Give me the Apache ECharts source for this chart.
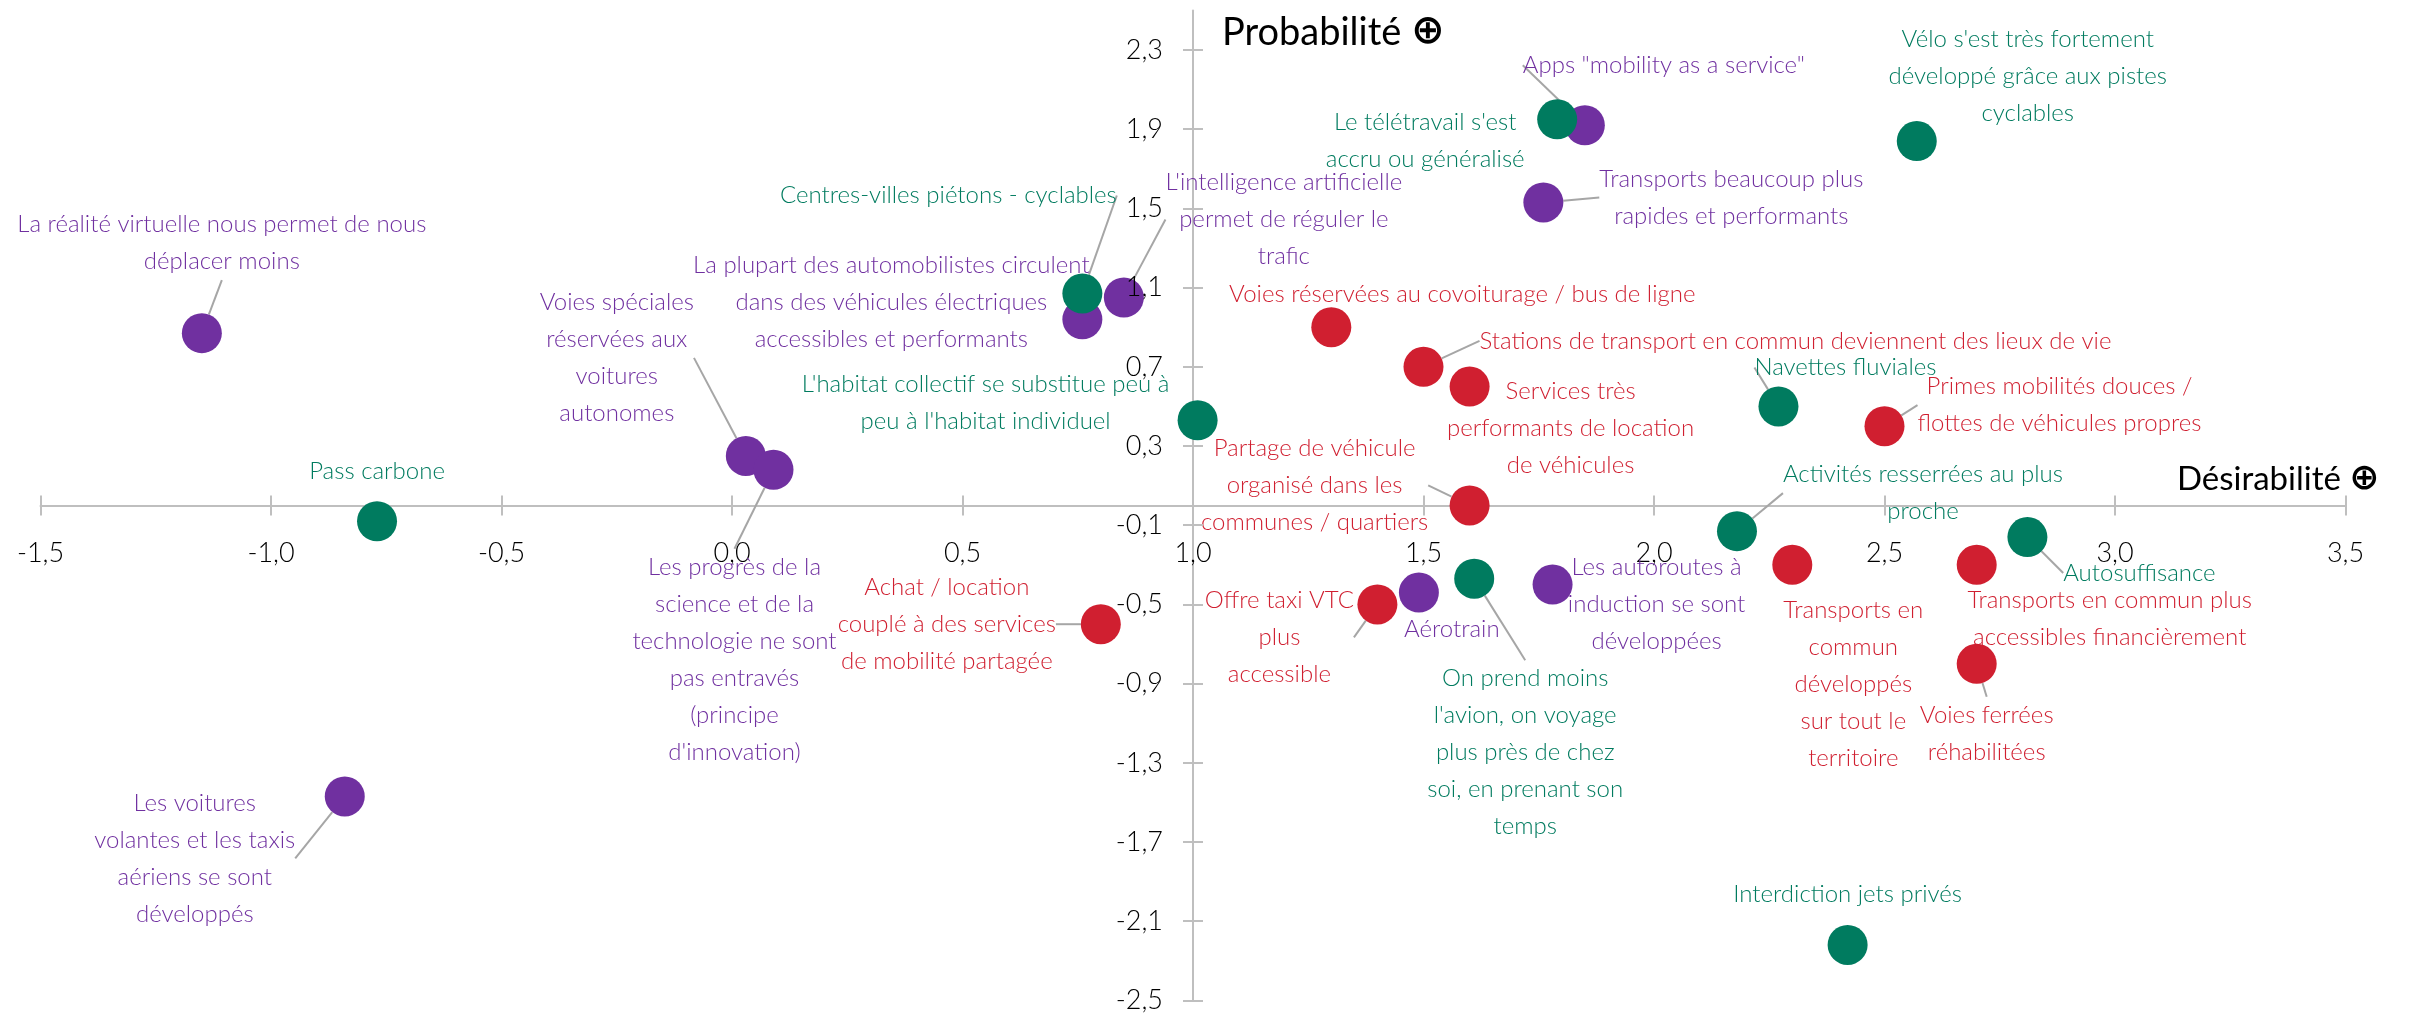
<!DOCTYPE html>
<html>
<head>
<meta charset="utf-8">
<script src="https://cdn.jsdelivr.net/npm/echarts@6.0.0/dist/echarts.min.js"></script>
<style>
    html, body {margin: 0; padding: 0; background: #fff;}
    #chart {width: 2430px; height: 1014px;}
</style>
</head>
<body>
<div id="chart"></div>
<script>
// scénarios : libellé, désirabilité (x), probabilité (y), groupe de couleur
const names = [
    'La réalité virtuelle nous permet de nous\ndéplacer moins',
    'Centres-villes piétons - cyclables',
    'La plupart des automobilistes circulent\ndans des véhicules électriques\naccessibles et performants',
    "L'intelligence artificielle\npermet de réguler le\ntrafic",
    "L'habitat collectif se substitue peu à\npeu à l'habitat individuel",
    'Voies spéciales\nréservées aux\nvoitures\nautonomes',
    "Les progrès de la\nscience et de la\ntechnologie ne sont\npas entravés\n(principe\nd'innovation)",
    'Pass carbone',
    "Le télétravail s'est\naccru ou généralisé",
    'Apps "mobility as a service"',
    "Vélo s'est très fortement\ndéveloppé grâce aux pistes\ncyclables",
    'Transports beaucoup plus\nrapides et performants',
    'Voies réservées au covoiturage / bus de ligne',
    'Stations de transport en commun deviennent des lieux de vie',
    'Services très\nperformants de location\nde véhicules',
    'Navettes fluviales',
    'Primes mobilités douces /\nflottes de véhicules propres',
    'Partage de véhicule\norganisé dans les\ncommunes / quartiers',
    'Activités resserrées au plus\nproche',
    'Autosuffisance',
    'Transports en\ncommun\ndéveloppés\nsur tout le\nterritoire',
    'Transports en commun plus\naccessibles financièrement',
    'Voies ferrées\nréhabilitées',
    'Interdiction jets privés',
    'Aérotrain',
    "On prend moins\nl'avion, on voyage\nplus près de chez\nsoi, en prenant son\ntemps",
    'Offre taxi VTC\nplus\naccessible',
    'Les autoroutes à\ninduction se sont\ndéveloppées',
    'Achat / location\ncouplé à des services\nde mobilité partagée',
    'Les voitures\nvolantes et les taxis\naériens se sont\ndéveloppés'
];
const desirabilite = [
    -1.15, 0.76, 0.76, 0.85, 1.01, 0.03, 0.09, -0.77, 1.79, 1.85,
    2.57, 1.76, 1.30, 1.50, 1.60, 2.27, 2.50, 1.60, 2.18, 2.81,
    2.30, 2.70, 2.70, 2.42, 1.49, 1.61, 1.40, 1.78, 0.80, -0.84
];
const probabilite = [
    0.87, 1.07, 0.94, 1.05, 0.43, 0.25, 0.18, -0.08, 1.95, 1.92,
    1.84, 1.53, 0.90, 0.70, 0.60, 0.50, 0.40, 0.00, -0.13, -0.16,
    -0.30, -0.30, -0.80, -2.22, -0.44, -0.37, -0.50, -0.40, -0.60, -1.47
];
const groupe = [
    'violet', 'vert', 'violet', 'violet', 'vert', 'violet', 'violet', 'vert', 'vert', 'violet',
    'vert', 'violet', 'rouge', 'rouge', 'rouge', 'vert', 'rouge', 'rouge', 'vert', 'vert',
    'rouge', 'rouge', 'rouge', 'vert', 'violet', 'vert', 'rouge', 'violet', 'rouge', 'violet'
];

const xTicks = [-1.5, -1.0, -0.5, 0.0, 0.5, 1.0, 1.5, 2.0, 2.5, 3.0, 3.5];
const xTickLabels = ['-1,5', '-1,0', '-0,5', '0,0', '0,5', '1,0', '1,5', '2,0', '2,5', '3,0', '3,5'];
const yTicks = [-2.5, -2.1, -1.7, -1.3, -0.9, -0.5, -0.1, 0.3, 0.7, 1.1, 1.5, 1.9, 2.3];
const yTickLabels = ['-2,5', '-2,1', '-1,7', '-1,3', '-0,9', '-0,5', '-0,1', '0,3', '0,7', '1,1', '1,5', '1,9', '2,3'];

// placement des étiquettes (px depuis le centre du point) et lignes de rappel
const labelDx = [20, -134, -191, 160, -212, -129, -39, 0, -132, 79, 111, 188, 131, 372, 101, 67, 175, -155, 186, 112, 61, 133, 10, 0, 33, 51, -98, 104, -154, -150];
const labelDy = [-90, -98, -17, -78, -17, -98, 190, -50, 21, -60, -65, -5, -33, -26, 42, -39, -21, -20, -38, 36, 119, 54, 70, -51, 37, 174, 33, 20, 0, 62];
const leader = [true, true, false, true, false, true, true, false, false, true, false, true, false, true, false, true, true, true, true, true, false, false, true, false, false, true, true, false, true, true];

const colours = {violet: '#7030A0', rouge: '#D01F30', vert: '#007B5F'};
const order = ['violet', 'rouge', 'vert'];
const font = 'Lato';
const xMin = -1.5, xMax = 3.5, yMin = -2.5, yMax = 2.5, yCross = 1.0, xCross = 0;
const gridLeft = 40.5, gridRight = 84.5, gridTop = 10.4, gridBottom = 13.6;

const chart = echarts.init(document.getElementById('chart'));
const gridWidth = chart.getWidth() - gridLeft - gridRight;
const gridHeight = chart.getHeight() - gridTop - gridBottom;
// axes croisés : l'axe vertical passe par x = 1, l'axe horizontal par y = 0
const yOffset = -gridWidth * (yCross - xMin) / (xMax - xMin);
const xOffset = -gridHeight * (xCross - yMin) / (yMax - yMin);

const pick = (ticks, labels) => v => {
    const k = ticks.findIndex(t => Math.abs(t - v) < 1e-6);
    return k < 0 ? '' : labels[k];
};

const series = order.map(g => {
    const idx = names.map((n, i) => i).filter(i => groupe[i] === g);
    return {
        type: 'scatter',
        name: g,
        symbolSize: 40,
        itemStyle: {color: colours[g], opacity: 1},
        emphasis: {disabled: true},
        data: idx.map(i => ({
            name: names[i],
            value: [desirabilite[i], probabilite[i]],
            labelLine: {show: leader[i]}
        })),
        label: {
            show: true,
            position: 'inside',
            formatter: p => p.name,
            color: colours[g],
            fontFamily: font,
            fontWeight: 300,
            fontSize: 24,
            lineHeight: 37,
            align: 'center'
        },
        labelLine: {show: true, lineStyle: {color: '#a6a6a6', width: 2}},
        labelLayout: p => {
            const i = idx[p.dataIndex];
            return {dx: labelDx[i], dy: labelDy[i], hideOverlap: false};
        }
    };
});

const axisStyle = {color: '#bfbfbf', width: 2};
const tickLabel = {fontFamily: font, fontWeight: 300, fontSize: 27, color: '#000'};

const option = {
    animation: false,
    grid: {
        left: gridLeft, right: gridRight, top: gridTop, bottom: gridBottom,
        containLabel: false, outerBoundsMode: 'none'
    },
    xAxis: [
        {
            type: 'value', min: xMin, max: xMax, position: 'bottom', offset: xOffset,
            name: 'Désirabilité {b|⊕}',
            nameLocation: 'end',
            nameGap: 34,
            nameTextStyle: {
                fontFamily: font, fontSize: 33, color: '#000', align: 'right', verticalAlign: 'bottom',
                padding: [0, 0, 8, 0],
                rich: {b: {fontFamily: 'DejaVu Sans', fontWeight: 'bold', fontSize: 36, color: '#000'}}
            },
            axisLine: {onZero: false, lineStyle: axisStyle},
            axisTick: {length: 10, lineStyle: axisStyle, customValues: xTicks},
            axisLabel: Object.assign({margin: 34, customValues: xTicks, formatter: pick(xTicks, xTickLabels)}, tickLabel),
            splitLine: {show: false}
        },
        {
            type: 'value', min: xMin, max: xMax, position: 'bottom', offset: xOffset,
            axisLine: {show: false, onZero: false},
            axisTick: {inside: true, length: 10, lineStyle: axisStyle, customValues: xTicks},
            axisLabel: {show: false},
            splitLine: {show: false}
        }
    ],
    yAxis: [
        {
            type: 'value', min: yMin, max: yMax, position: 'left', offset: yOffset,
            name: 'Probabilité {b|⊕}',
            nameLocation: 'end',
            nameGap: -22,
            nameTextStyle: {
                fontFamily: font, fontSize: 38, color: '#000', align: 'left', verticalAlign: 'middle',
                padding: [0, 0, 0, 29],
                rich: {b: {fontFamily: 'DejaVu Sans', fontWeight: 'bold', fontSize: 40, color: '#000'}}
            },
            axisLine: {onZero: false, lineStyle: axisStyle},
            axisTick: {length: 10, lineStyle: axisStyle, customValues: yTicks},
            axisLabel: {show: false},
            splitLine: {show: false}
        },
        {
            // graduations intérieures + libellés, dessinés au-dessus des points
            type: 'value', min: yMin, max: yMax, position: 'left', offset: yOffset, z: 5,
            axisLine: {show: false, onZero: false},
            axisTick: {inside: true, length: 10, lineStyle: axisStyle, customValues: yTicks},
            axisLabel: Object.assign({margin: 30, customValues: yTicks, formatter: pick(yTicks, yTickLabels)}, tickLabel),
            splitLine: {show: false}
        }
    ],
    series: series
};

chart.setOption(option);
</script>
</body>
</html>
